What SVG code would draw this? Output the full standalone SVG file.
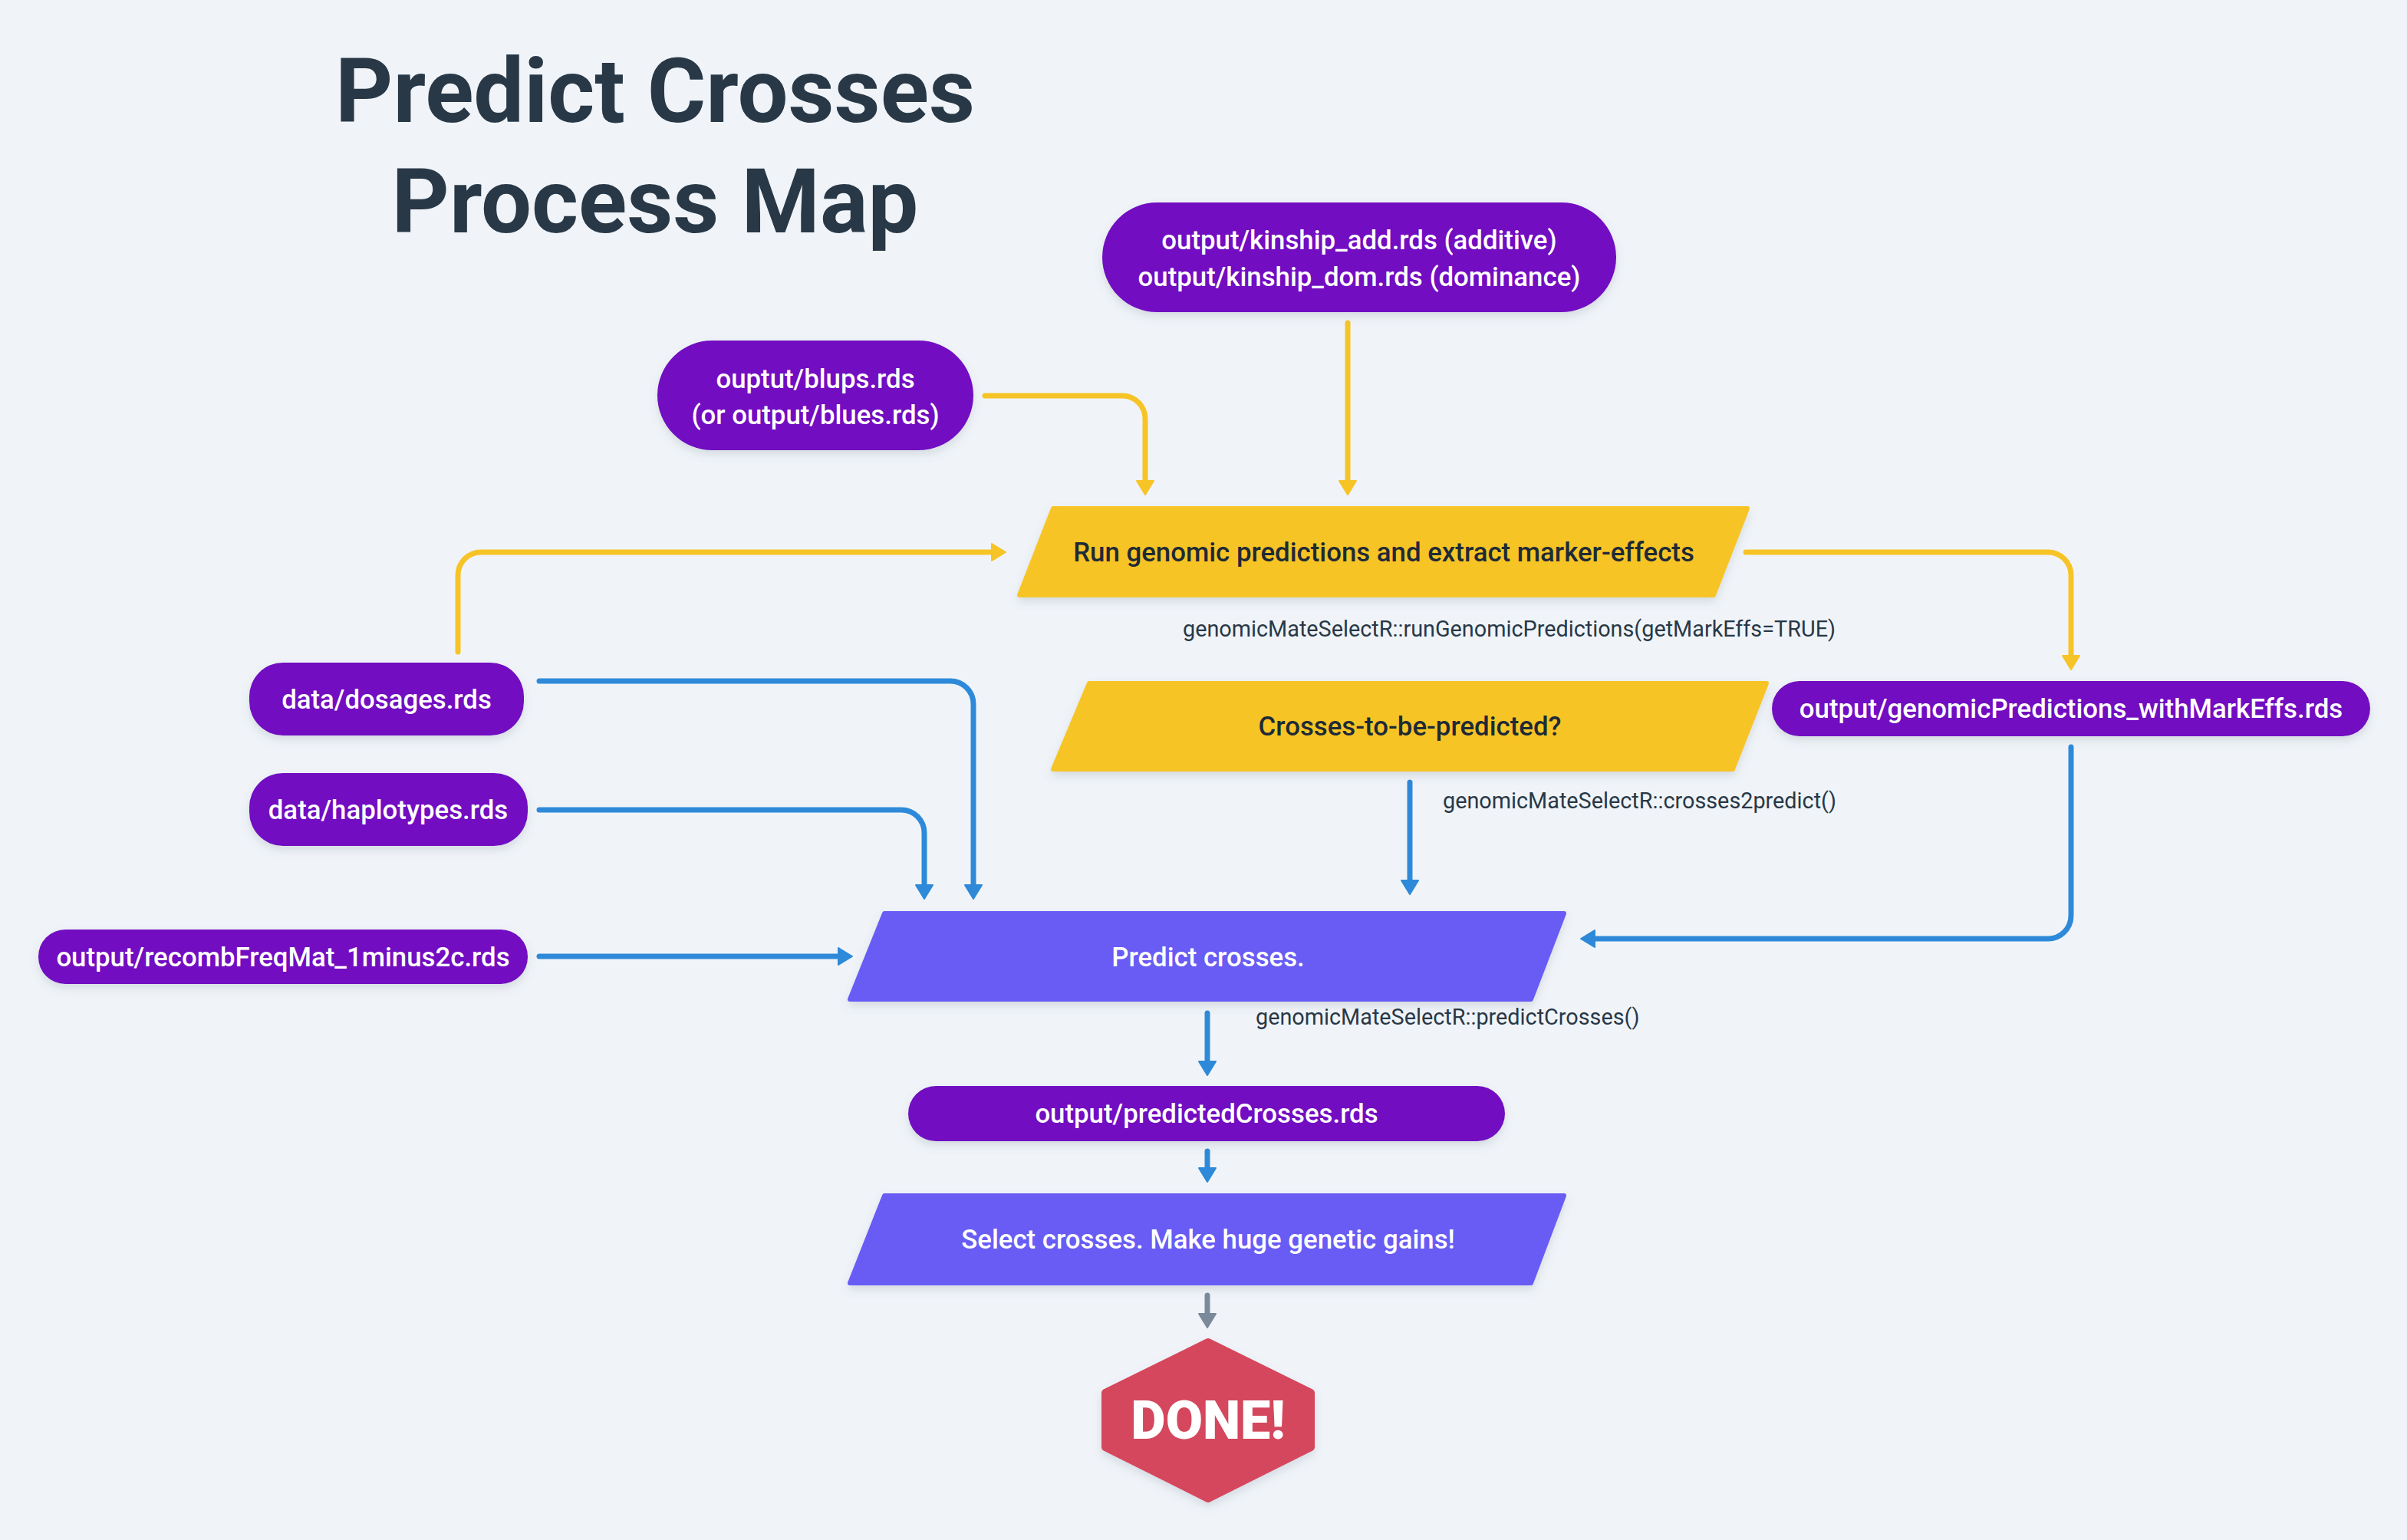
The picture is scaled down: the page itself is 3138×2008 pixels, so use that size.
<svg xmlns="http://www.w3.org/2000/svg" width="3138" height="2008" viewBox="0 0 3138 2008">
<defs>
<style>
.title{font-family:Roboto,"Liberation Sans",sans-serif;font-weight:700;font-size:117px;fill:#293847;text-anchor:middle}
.pill{fill:#7210C1;filter:url(#sh)}
.pt{font-family:Roboto,"Liberation Sans",sans-serif;font-weight:500;font-size:34.8px;fill:#ffffff;text-anchor:middle;dominant-baseline:central}
.yel{fill:#F7C427;stroke:#F7C427;stroke-width:6;stroke-linejoin:round;filter:url(#sh)}
.yt{font-family:Roboto,"Liberation Sans",sans-serif;font-weight:500;font-size:34.8px;fill:#1E2A36;text-anchor:middle;dominant-baseline:central}
.blu{fill:#685BF5;stroke:#685BF5;stroke-width:6;stroke-linejoin:round;filter:url(#sh)}
.lbl{font-family:Roboto,"Liberation Sans",sans-serif;font-weight:400;font-size:28.8px;fill:#293847;dominant-baseline:central}
.cy{fill:none;stroke:#F7C427;stroke-width:7;stroke-linecap:round;marker-end:url(#ay)}
.cb{fill:none;stroke:#2E8AD9;stroke-width:7;stroke-linecap:round;marker-end:url(#ab)}
.cg{fill:none;stroke:#7A8A9B;stroke-width:7;stroke-linecap:round;marker-end:url(#ag)}
</style>
<filter id="sh" x="-10%" y="-20%" width="120%" height="150%">
<feDropShadow dx="0" dy="6" stdDeviation="6" flood-color="#5a6a80" flood-opacity="0.18"/>
</filter>
<marker id="ay" markerUnits="userSpaceOnUse" markerWidth="20" markerHeight="24" viewBox="0 0 20 24" refX="5" refY="12" orient="auto"><path d="M1,1 L19,12 L1,23 Z" fill="#F7C427" stroke="#F7C427" stroke-width="2" stroke-linejoin="round"/></marker>
<marker id="ab" markerUnits="userSpaceOnUse" markerWidth="20" markerHeight="24" viewBox="0 0 20 24" refX="5" refY="12" orient="auto"><path d="M1,1 L19,12 L1,23 Z" fill="#2E8AD9" stroke="#2E8AD9" stroke-width="2" stroke-linejoin="round"/></marker>
<marker id="ag" markerUnits="userSpaceOnUse" markerWidth="20" markerHeight="24" viewBox="0 0 20 24" refX="5" refY="12" orient="auto"><path d="M1,1 L19,12 L1,23 Z" fill="#7A8A9B" stroke="#7A8A9B" stroke-width="2" stroke-linejoin="round"/></marker>
</defs>
<rect width="3138" height="2008" fill="#F0F4F8"/>
<g id="title">
<text class="title" x="854" y="159">Predict Crosses</text>
<text class="title" x="854" y="303">Process Map</text>
</g>
<g id="connectors">
<path class="cy" d="M1284,516 H1463 A30,30 0 0 1 1493,546 V631"/>
<path class="cy" d="M1757,421 V631"/>
<path class="cy" d="M597,850 V750 A30,30 0 0 1 627,720 H1297"/>
<path class="cy" d="M2276,720 H2670 A30,30 0 0 1 2700,750 V859"/>
<path class="cb" d="M703,888 H1239 A30,30 0 0 1 1269,918 V1158"/>
<path class="cb" d="M703,1056 H1175 A30,30 0 0 1 1205,1086 V1158"/>
<path class="cb" d="M703,1247 H1097"/>
<path class="cb" d="M1838,1020 V1152"/>
<path class="cb" d="M2700,974 V1194 A30,30 0 0 1 2670,1224 H2075"/>
<path class="cb" d="M1574,1321 V1388"/>
<path class="cb" d="M1574,1501 V1527"/>
<path class="cg" d="M1574,1689 V1717"/>
</g>
<g id="kinship">
<rect class="pill" x="1437" y="264" width="670" height="143" rx="71.5"/>
<text class="pt" x="1772" y="313">output/kinship_add.rds (additive)</text>
<text class="pt" x="1772" y="361">output/kinship_dom.rds (dominance)</text>
</g>
<g id="blups">
<rect class="pill" x="857" y="444" width="412" height="143" rx="71.5"/>
<text class="pt" x="1063" y="494">ouptut/blups.rds</text>
<text class="pt" x="1063" y="541">(or output/blues.rds)</text>
</g>
<g id="run">
<polygon class="yel" points="1373,663 2278,663 2234,776 1329,776"/>
<text class="yt" x="1804" y="720">Run genomic predictions and extract marker-effects</text>
</g>
<text class="lbl" x="1542" y="820">genomicMateSelectR::runGenomicPredictions(getMarkEffs=TRUE)</text>
<g id="crosses">
<polygon class="yel" points="1420,891 2303,891 2259,1003 1373,1003"/>
<text class="yt" x="1838" y="947">Crosses-to-be-predicted?</text>
</g>
<text class="lbl" x="1881" y="1044">genomicMateSelectR::crosses2predict()</text>
<g id="genpred">
<rect class="pill" x="2310" y="888" width="780" height="72" rx="36"/>
<text class="pt" x="2700" y="924">output/genomicPredictions_withMarkEffs.rds</text>
</g>
<g id="dosages">
<rect class="pill" x="325" y="864" width="358" height="95" rx="44"/>
<text class="pt" x="504" y="912">data/dosages.rds</text>
</g>
<g id="haplotypes">
<rect class="pill" x="325" y="1008" width="363" height="95" rx="44"/>
<text class="pt" x="506" y="1056">data/haplotypes.rds</text>
</g>
<g id="recomb">
<rect class="pill" x="50" y="1212" width="638" height="71" rx="35"/>
<text class="pt" x="369" y="1248">output/recombFreqMat_1minus2c.rds</text>
</g>
<g id="predict">
<polygon class="blu" points="1153,1191 2039,1191 1996,1303 1108,1303"/>
<text class="pt" x="1575" y="1248">Predict crosses.</text>
</g>
<text class="lbl" x="1637" y="1326">genomicMateSelectR::predictCrosses()</text>
<g id="predicted">
<rect class="pill" x="1184" y="1416" width="778" height="72" rx="36"/>
<text class="pt" x="1573" y="1452">output/predictedCrosses.rds</text>
</g>
<g id="select">
<polygon class="blu" points="1153,1559 2039,1559 1996,1673 1108,1673"/>
<text class="pt" x="1575" y="1616">Select crosses. Make huge genetic gains!</text>
</g>
<g id="done">
<polygon points="1575,1750 1709,1816 1709,1887 1575,1954 1441,1887 1441,1816" fill="#D4465D" stroke="#D4465D" stroke-width="10" stroke-linejoin="round" filter="url(#sh)"/>
<text x="1575" y="1852" font-family="Roboto,'Liberation Sans',sans-serif" font-weight="900" font-size="70" fill="#ffffff" text-anchor="middle" dominant-baseline="central">DONE!</text>
</g>
</svg>
